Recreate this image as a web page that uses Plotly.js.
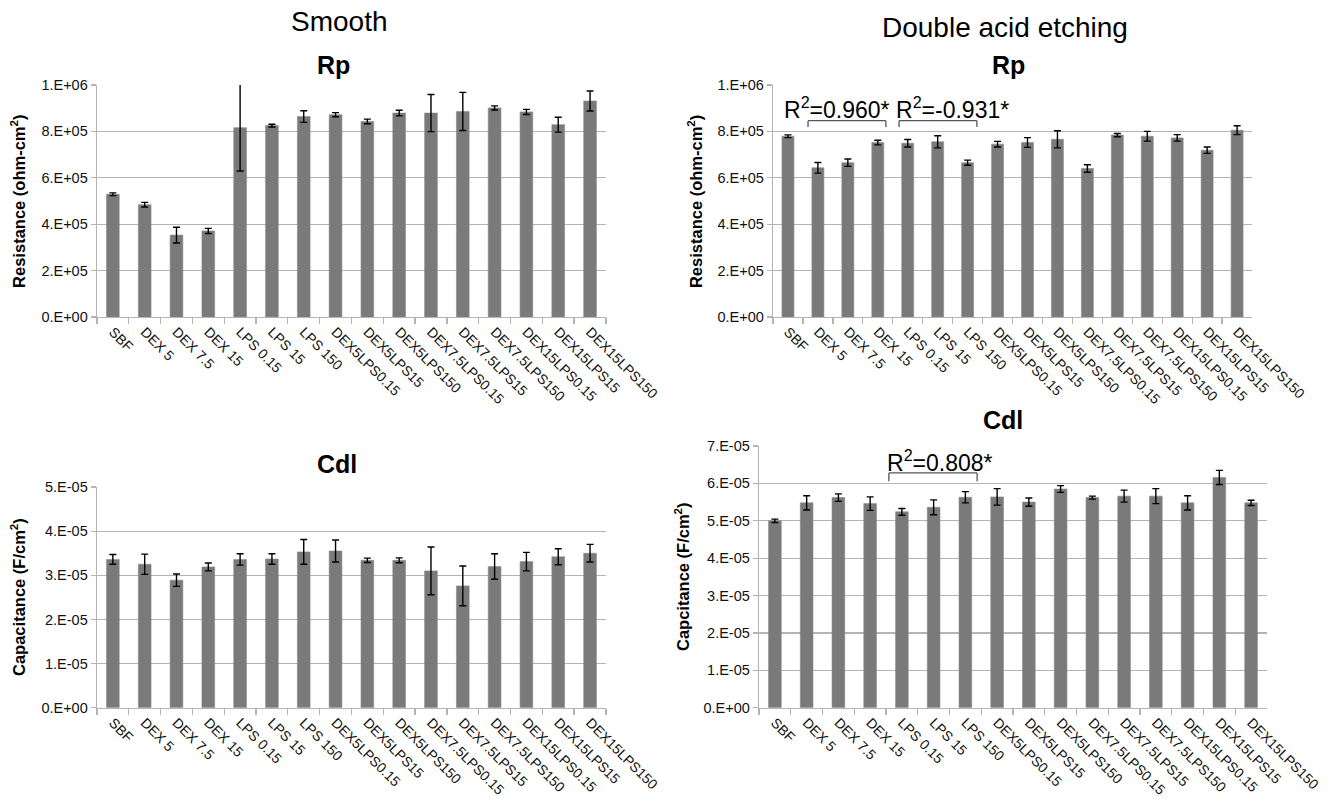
<!DOCTYPE html>
<html>
<head>
<meta charset="utf-8">
<script src="https://cdn.plot.ly/plotly-3.0.1.min.js"></script>
<style>html,body{margin:0;padding:0;background:#fff;}#chart{width:1330px;height:807px;}</style>
</head>
<body>
<div id="chart"></div>
<script>
const categories = ['SBF','DEX 5','DEX 7.5','DEX 15','LPS 0.15','LPS 15','LPS 150','DEX5LPS0.15','DEX5LPS15','DEX5LPS150','DEX7.5LPS0.15','DEX7.5LPS15','DEX7.5LPS150','DEX15LPS0.15','DEX15LPS15','DEX15LPS150'];

const smoothRp    = [5.29e5, 4.84e5, 3.53e5, 3.71e5, 8.16e5, 8.25e5, 8.64e5, 8.72e5, 8.43e5, 8.79e5, 8.79e5, 8.86e5, 9.01e5, 8.84e5, 8.29e5, 9.31e5];
const smoothRpErr = [6e3, 1e4, 3.4e4, 1.1e4, 1.87e5, 6e3, 2.5e4, 9e3, 1e4, 1.2e4, 8e4, 8.2e4, 9e3, 1.1e4, 3.2e4, 4.3e4];
const etchRp      = [7.79e5, 6.43e5, 6.65e5, 7.52e5, 7.49e5, 7.55e5, 6.65e5, 7.45e5, 7.52e5, 7.66e5, 6.40e5, 7.84e5, 7.79e5, 7.72e5, 7.19e5, 8.05e5];
const etchRpErr   = [6e3, 2.3e4, 1.6e4, 1e4, 1.6e4, 2.6e4, 1.1e4, 1.2e4, 2.1e4, 3.7e4, 1.6e4, 7e3, 2.1e4, 1.4e4, 1.4e4, 1.9e4];
const smoothCdl    = [3.36e-5, 3.25e-5, 2.89e-5, 3.19e-5, 3.36e-5, 3.37e-5, 3.53e-5, 3.55e-5, 3.34e-5, 3.34e-5, 3.10e-5, 2.76e-5, 3.20e-5, 3.31e-5, 3.42e-5, 3.50e-5];
const smoothCdlErr = [1.1e-6, 2.3e-6, 1.4e-6, 0.9e-6, 1.3e-6, 1.2e-6, 2.8e-6, 2.5e-6, 0.5e-6, 0.55e-6, 5.4e-6, 4.5e-6, 2.9e-6, 2.1e-6, 1.8e-6, 2.0e-6];
const etchCdl      = [5.00e-5, 5.48e-5, 5.62e-5, 5.46e-5, 5.24e-5, 5.36e-5, 5.63e-5, 5.64e-5, 5.50e-5, 5.85e-5, 5.62e-5, 5.66e-5, 5.66e-5, 5.48e-5, 6.16e-5, 5.48e-5];
const etchCdlErr   = [0.45e-6, 1.9e-6, 1.0e-6, 1.8e-6, 0.9e-6, 2.0e-6, 1.5e-6, 2.2e-6, 1.1e-6, 0.9e-6, 0.4e-6, 1.6e-6, 2.0e-6, 1.9e-6, 1.9e-6, 0.7e-6];

const rpTickVals = [0, 2e5, 4e5, 6e5, 8e5, 1e6];
const rpTickText = ['0.E+00','2.E+05','4.E+05','6.E+05','8.E+05','1.E+06'];
const cdlSmoothTickVals = [0, 1e-5, 2e-5, 3e-5, 4e-5, 5e-5];
const cdlSmoothTickText = ['0.E+00','1.E-05','2.E-05','3.E-05','4.E-05','5.E-05'];
const cdlEtchTickVals = [0, 1e-5, 2e-5, 3e-5, 4e-5, 5e-5, 6e-5, 7e-5];
const cdlEtchTickText = ['0.E+00','1.E-05','2.E-05','3.E-05','4.E-05','5.E-05','6.E-05','7.E-05'];

const BAR = '#7a7a7a';
const GRID = '#b4b4b4';
const FONT = 'Liberation Sans, Arial, sans-serif';

function barTrace(y, err, xa, ya) {
  return {
    type: 'bar', x: categories, y: y, xaxis: xa, yaxis: ya,
    marker: {color: BAR, line: {color: '#8a8a8a', width: 0.6}},
    error_y: {type: 'data', array: err, visible: true, color: '#000', thickness: 1.4, width: 3.5},
    width: 0.4, hoverinfo: 'none', showlegend: false
  };
}

const data = [
  barTrace(smoothRp, smoothRpErr, 'x', 'y'),
  barTrace(etchRp, etchRpErr, 'x2', 'y2'),
  barTrace(smoothCdl, smoothCdlErr, 'x3', 'y3'),
  barTrace(etchCdl, etchCdlErr, 'x4', 'y4')
];

function xAxis(domain, anchor) {
  return {
    domain: domain, anchor: anchor, type: 'category',
    showline: true, linecolor: GRID, linewidth: 1.3,
    ticks: 'outside', tickson: 'boundaries', ticklen: 6, tickcolor: GRID, tickwidth: 1.3,
    tickangle: 45, tickfont: {family: FONT, size: 14, color: '#111'},
    showgrid: false, zeroline: false, fixedrange: true
  };
}
function yAxis(domain, anchor, range, vals, text) {
  return {
    domain: domain, anchor: anchor, range: range,
    tickvals: vals, ticktext: text,
    showline: true, linecolor: GRID, linewidth: 1.3,
    ticks: 'outside', ticklen: 5, tickcolor: GRID, tickwidth: 1.3,
    showgrid: true, gridcolor: GRID, gridwidth: 1.3,
    zeroline: false, tickfont: {family: FONT, size: 14.5, color: '#111'},
    fixedrange: true
  };
}

const topY = [0.6072, 0.8947];
const layout = {
  width: 1330, height: 807,
  margin: {l: 0, r: 0, t: 0, b: 0},
  paper_bgcolor: '#fff', plot_bgcolor: '#fff',
  bargap: 0.6,
  xaxis:  xAxis([0.0729, 0.4556], 'y'),
  yaxis:  yAxis(topY, 'x', [0, 1e6], rpTickVals, rpTickText),
  xaxis2: xAxis([0.5812, 0.9414], 'y2'),
  yaxis2: yAxis(topY, 'x2', [0, 1e6], rpTickVals, rpTickText),
  xaxis3: xAxis([0.0729, 0.4556], 'y3'),
  yaxis3: yAxis([0.1230, 0.3965], 'x3', [0, 5e-5], cdlSmoothTickVals, cdlSmoothTickText),
  xaxis4: xAxis([0.5707, 0.9526], 'y4'),
  yaxis4: yAxis([0.1230, 0.4473], 'x4', [0, 7e-5], cdlEtchTickVals, cdlEtchTickText),
  shapes: [],
  annotations: []
};

function bracket(xa, ya, x0, x1, yTop, yBot) {
  const s = {type: 'line', xref: xa, yref: ya, line: {color: '#555', width: 1.3}};
  layout.shapes.push(Object.assign({}, s, {x0: x0, x1: x1, y0: yTop, y1: yTop}));
  layout.shapes.push(Object.assign({}, s, {x0: x0, x1: x0, y0: yTop, y1: yBot}));
  layout.shapes.push(Object.assign({}, s, {x0: x1, x1: x1, y0: yTop, y1: yBot}));
}
bracket('x2', 'y2', 0.67, 3.27, 8.46e5, 8.19e5);
bracket('x2', 'y2', 3.71, 6.31, 8.46e5, 8.19e5);
bracket('x4', 'y4', 3.59, 6.37, 6.28e-5, 6.06e-5);

function txt(text, x, y, size, bold, extra) {
  layout.annotations.push(Object.assign({
    text: bold ? '<b>' + text + '</b>' : text,
    xref: 'paper', yref: 'paper', x: x, y: y,
    xanchor: 'center', yanchor: 'middle', showarrow: false,
    font: {family: FONT, size: size, color: '#000'}
  }, extra || {}));
}
txt('Smooth', 0.2549, 0.973, 28, false);
txt('Double acid etching', 0.7556, 0.966, 28, false);
txt('Rp', 0.251, 0.919, 25, true);
txt('Rp', 0.758, 0.919, 25, true);
txt('Cdl', 0.2534, 0.425, 25, true);
txt('Cdl', 0.754, 0.479, 25, true);
txt('Resistance (ohm-cm<sup>2</sup>)', 0.0135, 0.751, 16.5, true, {textangle: -90});
txt('Resistance (ohm-cm<sup>2</sup>)', 0.5226, 0.7497, 16.5, true, {textangle: -90});
txt('Capacitance (F/cm<sup>2</sup>)', 0.0135, 0.2602, 16.5, true, {textangle: -90});
txt('Capcitance (F/cm<sup>2</sup>)', 0.5128, 0.285, 16.5, true, {textangle: -90});

function dataTxt(text, xa, ya, x, y) {
  layout.annotations.push({
    text: text, xref: xa, yref: ya, x: x, y: y,
    xanchor: 'center', yanchor: 'middle', showarrow: false,
    font: {family: FONT, size: 23, color: '#000'}
  });
}
dataTxt('R<sup>2</sup>=0.960*', 'x2', 'y2', 1.64, 9.0e5);
dataTxt('R<sup>2</sup>=-0.931*', 'x2', 'y2', 5.48, 9.0e5);
dataTxt('R<sup>2</sup>=0.808*', 'x4', 'y4', 5.2, 6.6e-5);

Plotly.newPlot('chart', data, layout, {staticPlot: true, displayModeBar: false});
</script>
</body>
</html>
